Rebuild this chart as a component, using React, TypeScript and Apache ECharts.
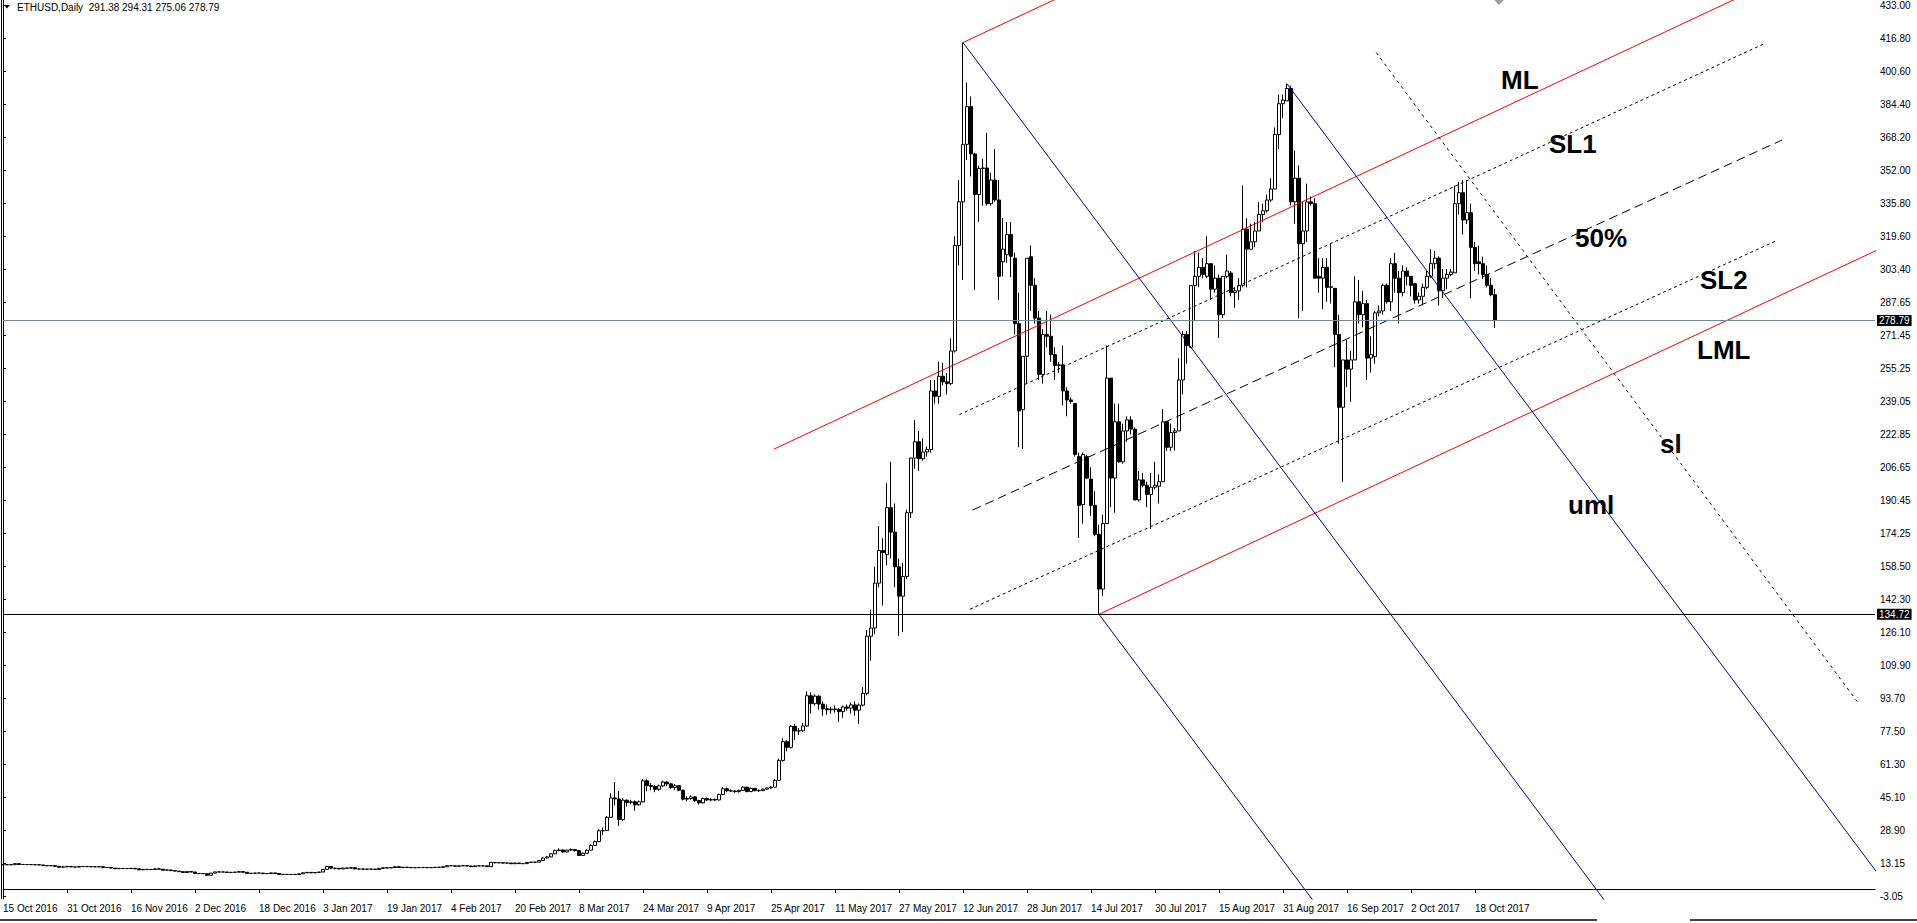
import React, { useEffect, useRef } from "react";
import * as echarts from "echarts";

// ---- candles: [open, close, low, high], one array per month ----
const oct2016 = [
  [11.98,11.96,11.85,12.05],[11.96,11.95,11.88,12.02],[11.95,11.99,11.85,12.04],[11.99,12.49,11.95,12.55],
  [12.49,12.07,11.98,12.52],[12.07,12.08,11.96,12.15],[12.08,12.04,11.98,12.12],[12.04,12.01,11.94,12.10],
  [12.01,11.94,11.88,12.06],[11.94,11.88,11.80,11.99],[11.88,11.55,11.45,11.92],[11.55,11.47,11.30,11.60],
  [11.47,11.52,11.40,11.62],[11.52,11.17,11.05,11.56],[11.17,10.74,10.50,11.20],[10.74,10.91,10.65,11.30],
  [10.91,11.14,10.85,11.25],
];
const nov2016 = [
  [11.14,10.90,10.80,11.20],[10.90,10.80,10.70,11.00],[10.80,11.10,10.75,11.20],[11.10,11.05,10.95,11.20],
  [11.05,11.05,10.95,11.15],[11.05,10.97,10.90,11.10],[10.97,10.93,10.85,11.05],[10.93,11.00,10.88,11.15],
  [11.00,10.60,10.40,11.05],[10.60,10.62,10.50,10.75],[10.62,10.30,10.20,10.70],[10.30,10.00,9.95,10.35],
  [10.00,10.15,9.90,10.20],[10.15,10.10,10.00,10.25],[10.10,10.07,9.95,10.20],[10.07,10.20,10.00,10.30],
  [10.20,9.94,9.85,10.25],[9.94,9.46,9.35,10.00],[9.46,9.70,9.40,9.80],[9.70,9.60,9.50,9.75],
  [9.60,9.65,9.55,9.75],[9.65,9.93,9.60,10.00],[9.93,9.77,9.70,9.98],[9.77,9.28,9.20,9.80],
  [9.28,9.38,9.20,9.45],[9.38,9.05,8.95,9.40],[9.05,8.84,8.75,9.10],[8.84,8.55,8.45,8.90],
  [8.55,8.14,7.95,8.60],[8.14,8.60,8.10,8.70],
];
const dec2016 = [
  [8.60,8.39,8.30,8.65],[8.39,7.68,7.55,8.45],[7.68,7.66,7.50,7.80],[7.66,7.57,7.45,7.75],
  [7.57,6.80,6.40,7.60],[6.80,7.85,6.75,7.95],[7.85,8.43,7.80,8.55],[8.43,8.40,8.30,8.55],
  [8.40,8.40,8.30,8.50],[8.40,8.14,8.05,8.45],[8.14,8.26,8.10,8.35],[8.26,8.30,8.20,8.40],
  [8.30,8.57,8.25,8.70],[8.57,8.28,8.20,8.60],[8.28,7.72,7.65,8.30],[7.72,7.76,7.65,7.85],
  [7.76,7.88,7.70,7.95],[7.88,7.88,7.80,7.95],[7.88,7.62,7.55,7.90],[7.62,7.61,7.50,7.70],
  [7.61,7.95,7.58,8.05],[7.95,7.66,7.60,7.98],[7.66,7.20,7.10,7.70],[7.20,7.26,7.15,7.35],
  [7.26,7.15,7.05,7.30],[7.15,7.22,7.10,7.30],[7.22,7.20,7.10,7.30],[7.20,7.48,7.15,7.55],
  [7.48,8.00,7.45,8.10],[8.00,8.20,7.95,8.35],[8.20,7.97,7.90,8.25],
];
const jan2017 = [
  [7.97,8.17,7.95,8.25],[8.17,8.38,8.10,8.45],[8.38,9.71,8.35,9.80],[9.71,11.13,9.65,11.30],
  [11.13,10.27,9.80,11.25],[10.27,10.21,9.70,10.40],[10.21,9.89,9.80,10.30],[9.89,10.33,9.85,10.45],
  [10.33,10.26,10.15,10.40],[10.26,10.49,10.20,10.60],[10.49,9.90,9.80,10.55],[9.90,9.88,9.75,10.00],
  [9.88,9.78,9.70,9.95],[9.78,9.81,9.70,9.90],[9.81,9.83,9.72,9.90],[9.83,9.64,9.55,9.88],
  [9.64,10.17,9.60,10.25],[10.17,10.47,10.10,10.55],[10.47,10.36,10.25,10.55],[10.36,10.59,10.30,10.65],
  [10.59,10.99,10.55,11.10],[10.99,10.61,10.55,11.05],[10.61,10.75,10.55,10.85],[10.75,10.63,10.55,10.80],
  [10.63,10.49,10.40,10.70],[10.49,10.55,10.45,10.65],[10.55,10.56,10.48,10.62],[10.56,10.61,10.50,10.68],
  [10.61,10.50,10.45,10.65],[10.50,10.58,10.45,10.65],[10.58,10.70,10.55,10.78],
];
const feb2017 = [
  [10.70,10.73,10.65,10.80],[10.73,10.95,10.70,11.05],[10.95,11.50,10.90,11.60],[11.50,11.43,11.35,11.60],
  [11.43,11.20,11.10,11.45],[11.20,11.40,11.15,11.50],[11.40,11.50,11.35,11.60],[11.50,11.35,11.25,11.55],
  [11.35,11.00,10.90,11.40],[11.00,11.40,10.95,11.50],[11.40,11.40,11.30,11.50],[11.40,11.40,11.30,11.50],
  [11.40,11.00,10.90,11.45],[11.00,13.10,10.95,13.30],[13.10,12.90,12.70,13.20],[12.90,12.95,12.80,13.05],
  [12.95,12.75,12.65,13.00],[12.75,12.80,12.65,12.90],[12.80,12.45,12.35,12.85],[12.45,12.80,12.40,12.90],
  [12.80,12.50,12.40,12.85],[12.50,12.50,12.40,12.60],[12.50,13.10,12.45,13.20],[13.10,13.20,13.00,13.40],
  [13.20,13.20,13.05,13.40],[13.20,14.00,13.15,14.20],[14.00,15.25,13.95,15.50],[15.25,15.80,15.00,16.20],
];
const mar2017 = [
  [15.80,17.30,15.60,17.60],[17.30,18.90,17.20,19.40],[18.90,19.20,18.60,20.00],[19.20,18.20,17.90,19.40],
  [18.20,19.10,18.00,19.30],[19.10,19.40,18.90,19.90],[19.40,18.90,18.40,19.70],[18.90,16.50,16.20,19.00],
  [16.50,17.60,16.30,18.00],[17.60,19.10,17.40,19.50],[19.10,21.40,19.00,22.00],[21.40,23.30,21.20,23.80],
  [23.30,28.60,23.00,29.50],[28.60,28.70,26.50,30.20],[28.70,35.20,28.50,35.80],[35.20,44.70,35.00,47.00],
  [44.70,44.20,41.00,52.50],[44.20,34.10,31.00,48.00],[34.10,43.60,33.50,44.50],[43.60,42.50,40.50,44.00],
  [42.50,42.80,41.50,43.80],[42.80,41.30,38.50,43.50],[41.30,42.80,41.00,43.50],[42.80,53.10,42.50,54.00],
  [53.10,50.80,48.00,53.80],[50.80,50.30,48.50,52.00],[50.30,48.90,47.50,51.00],[48.90,50.60,48.20,51.30],
  [50.60,52.50,50.20,53.20],[52.50,51.60,50.50,53.00],[51.60,49.80,49.00,52.00],
];
const apr2017 = [
  [49.80,50.70,48.50,51.50],[50.70,48.50,48.00,51.00],[48.50,44.10,43.50,48.80],[44.10,44.40,43.00,45.50],
  [44.40,45.20,43.80,46.00],[45.20,43.40,42.80,45.60],[43.40,42.30,41.50,43.80],[42.30,44.40,42.00,44.80],
  [44.40,43.70,43.20,44.90],[43.70,43.90,43.00,44.50],[43.90,43.70,43.20,44.40],[43.70,46.40,43.50,46.80],
  [46.40,49.20,46.00,50.00],[49.20,48.20,47.50,49.80],[48.20,48.10,47.60,48.80],[48.10,47.80,47.20,48.50],
  [47.80,48.40,47.30,48.80],[48.40,50.00,48.10,50.40],[50.00,47.80,47.50,50.20],[47.80,49.40,47.60,49.80],
  [49.40,48.30,47.90,49.60],[48.30,48.30,47.60,48.90],[48.30,49.00,48.00,49.30],[49.00,49.60,48.70,50.00],
  [49.60,50.00,49.20,50.60],[50.00,53.30,49.80,54.00],[53.30,63.10,53.00,64.00],[63.10,72.30,62.50,74.00],
  [72.30,69.50,67.50,73.00],[69.50,79.80,69.00,80.50],
];
const may2017 = [
  [79.80,77.50,73.00,81.00],[77.50,77.60,75.50,79.00],[77.60,80.00,77.00,81.50],[80.00,94.80,79.50,97.00],
  [94.80,90.90,86.00,96.50],[90.90,94.60,90.00,95.50],[94.60,90.70,88.00,95.00],[90.70,88.40,85.00,92.00],
  [88.40,87.90,85.50,90.50],[87.90,88.30,86.00,89.50],[88.30,88.10,86.50,90.00],[88.10,87.00,82.00,88.80],
  [87.00,89.30,84.00,90.00],[89.30,88.70,87.50,90.50],[88.70,90.30,86.00,91.50],[90.30,87.70,85.00,92.00],
  [87.70,90.20,81.00,91.00],[90.20,96.00,89.50,99.00],[96.00,124.00,95.00,127.00],[124.00,128.00,112.00,137.00],
  [128.00,150.00,125.00,158.00],[150.00,166.00,148.00,178.00],[166.00,165.00,139.00,172.00],[164.00,187.00,158.70,199.00],
  [187.00,175.00,162.00,209.50],[175.00,158.00,148.00,189.00],[158.00,143.60,124.00,162.00],[143.60,153.30,126.00,160.00],
  [153.30,184.50,152.00,186.00],[184.50,211.30,182.00,211.50],[211.30,219.30,206.00,230.00],
];
const jun2017 = [
  [219.30,211.00,205.00,224.60],[211.00,214.30,210.00,221.00],[214.30,215.50,212.00,217.00],[215.50,244.20,214.00,249.60],
  [244.20,241.60,238.00,249.60],[241.60,251.40,238.00,258.50],[251.40,248.70,247.00,258.00],[248.70,247.80,242.50,253.00],
  [247.80,263.80,247.00,270.00],[263.80,315.50,263.00,320.00],[315.50,336.90,305.70,347.60],[336.90,365.10,298.60,415.00],
  [365.10,383.60,357.40,395.40],[383.60,360.40,349.40,388.60],[360.40,340.50,293.80,361.00],[340.50,353.30,327.10,354.70],
  [353.30,353.50,335.00,358.00],[353.50,336.00,335.00,370.80],[336.00,347.60,335.00,351.20],[347.60,337.80,336.90,362.80],
  [337.80,300.40,288.80,347.60],[307.50,313.70,300.40,328.90],[311.00,320.90,307.00,327.00],[320.90,310.20,300.00,327.00],
  [309.30,277.20,271.90,312.00],[277.20,234.40,216.60,292.40],[235.00,261.20,215.70,261.20],[261.20,309.30,247.80,309.30],
  [310.00,296.00,283.40,315.50],[296.00,279.90,277.20,299.50],
];
const jul2017 = [
  [279.90,252.30,249.60,283.40],[252.30,271.90,247.80,274.50],[271.90,271.00,265.60,283.40],[271.00,262.00,258.50,281.60],
  [262.00,256.70,249.60,265.60],[256.70,257.00,253.00,258.50],[257.00,244.20,237.10,266.50],[244.20,239.80,231.80,246.00],
  [239.80,239.00,238.00,241.00],[238.00,213.10,212.00,238.00],[212.00,188.10,172.10,214.00],[188.50,213.00,179.20,214.00],
  [212.00,201.50,201.00,213.00],[201.00,188.10,182.80,206.80],[188.10,173.90,173.00,195.00],[173.90,147.10,134.72,178.60],
  [147.10,179.20,143.60,183.60],[179.20,250.50,179.00,266.50],[250.50,201.50,187.20,250.50],[201.50,229.10,184.50,238.00],
  [229.10,209.50,209.00,238.00],[209.50,224.60,208.60,228.20],[224.60,230.00,219.30,231.80],[230.00,225.50,222.90,231.80],
  [225.50,190.80,190.80,226.40],[190.80,200.60,190.00,205.00],[200.60,198.00,197.00,204.00],[198.00,193.50,187.20,199.70],
  [193.50,197.00,176.50,204.00],[197.00,198.00,196.00,209.50],[197.50,199.70,189.00,203.30],
];
const aug2017 = [
  [199.70,229.10,199.70,235.30],[229.10,216.60,214.80,229.10],[216.60,223.80,214.80,228.20],[223.80,224.60,215.00,226.00],
  [224.60,249.60,224.60,260.30],[249.60,271.90,242.50,273.60],[271.90,266.50,257.60,273.60],[265.60,295.90,265.60,296.00],
  [295.90,300.40,279.00,312.80],[300.40,304.80,295.00,312.00],[304.80,301.30,299.50,309.30],[300.40,306.60,299.50,320.00],
  [306.60,294.10,288.80,306.60],[294.10,299.50,292.40,305.70],[299.50,281.60,270.10,301.30],[281.60,300.40,279.90,300.40],
  [300.40,303.00,299.50,311.00],[302.00,292.40,290.60,303.00],[292.40,293.30,285.00,295.00],[293.30,296.00,288.80,299.50],
  [296.00,323.50,295.00,344.90],[323.50,313.70,295.00,328.90],[313.70,317.30,313.70,326.20],[317.30,322.60,314.60,327.00],
  [322.60,330.70,322.60,336.90],[330.70,332.50,327.10,336.00],[332.50,337.80,331.60,340.50],[337.80,343.20,336.90,348.50],
  [343.20,369.90,343.20,373.40],[369.90,385.00,362.80,389.50],[385.00,386.80,377.90,389.50],
];
const sep2017 = [
  [386.40,392.50,386.40,394.80],[392.50,336.90,335.10,393.90],[336.90,348.50,326.20,361.90],[348.50,316.40,279.90,354.70],
  [316.40,322.60,283.40,336.90],[322.60,336.90,317.30,345.80],[336.90,336.00,335.00,339.60],[336.00,299.50,299.50,338.70],
  [300.40,299.50,292.40,309.30],[299.50,304.80,284.30,309.30],[304.80,295.00,287.90,309.30],[295.00,295.30,287.00,316.40],
  [294.50,271.90,255.80,294.50],[271.90,236.20,218.40,281.60],[236.20,259.40,199.70,259.40],[259.40,254.90,246.00,269.20],
  [254.90,259.40,238.90,263.80],[259.40,287.90,259.40,300.40],[287.90,281.60,277.20,298.60],[281.60,287.00,275.40,293.30],
  [287.00,260.30,249.60,288.80],[260.30,262.00,253.20,271.00],[261.00,282.50,257.60,283.40],[282.50,283.40,280.80,286.10],
  [283.40,296.00,281.60,296.80],[296.00,287.90,287.00,296.80],[287.90,306.60,283.40,309.30],[306.60,299.50,292.40,311.90],
  [299.50,292.40,277.20,303.00],[292.40,303.00,290.60,305.70],
];
const oct2017 = [
  [303.00,300.40,295.90,304.80],[300.40,296.00,290.60,300.40],[296.80,288.80,287.00,296.80],[288.80,290.60,287.00,292.40],
  [290.60,295.00,286.10,296.80],[295.00,300.40,294.10,303.00],[300.40,306.60,299.50,313.70],[306.60,309.30,304.00,312.80],
  [309.30,293.30,286.10,310.20],[293.30,299.50,289.70,304.00],[299.50,301.30,294.10,304.00],[301.30,302.50,300.40,304.00],
  [302.10,336.00,302.10,344.90],[336.00,341.40,330.70,346.70],[341.40,328.00,320.90,347.60],[328.00,331.60,326.00,347.60],
  [331.60,314.60,289.70,336.00],[314.60,306.60,303.00,317.30],[307.50,306.60,301.30,315.50],[306.60,301.30,299.00,310.00],
  [301.30,296.00,295.00,305.70],[296.00,291.40,290.60,299.50],[291.38,278.79,275.06,294.31],
];

// ---- price scale labels (right axis, bottom to top) ----
const priceTicks = [
  "-3.05","13.15","28.90","45.10","61.30","77.50","93.70","109.90","126.10","142.30",
  "158.50","174.25","190.45","206.65","222.85","239.05","255.25","271.45","287.65","303.40",
  "319.60","335.80","352.00","368.20","384.40","400.60","416.80","433.00",
];
const MONTHS = ["Jan","Feb","Mar","Apr","May","Jun","Jul","Aug","Sep","Oct","Nov","Dec"];
const FIRST_DAY = [2016, 9, 15];
const TOTAL_SLOTS = 469; // bars + empty shift on the right
const LABEL_EVERY = 16;

// ---- drawn objects: [barIndex, price] anchor points ----
const redUpper = [[240, 415.0], [440, 598.6]];
const redMedian = [[192.75, 215.7], [470, 470.2]];
const redLower = [[274, 134.72], [470, 314.6]];
const blue1 = [[240, 415.0], [410, -30.7]];
const blue2 = [[321, 394.8], [470, 4.2]];
const blue3 = [[274, 134.72], [335, -25.2]];
const sl1Line = [[239.1, 232.6], [440.5, 414.6]];
const halfLine = [[242.4, 185.8], [444.75, 367.2]];
const sl2Line = [[241.75, 137.2], [443.4, 317.9]];
const slLine = [[343.3, 410.1], [463.7, 91.6]];
const levelCurrent = 278.79;
const levelLow = 134.72;

const FONT = "Liberation Sans, Arial, sans-serif";

export default function App() {
  const ref = useRef<HTMLDivElement>(null);

  useEffect(() => {
    if (!ref.current) return;
    const chart = echarts.init(ref.current, undefined, { renderer: "svg" });

    const candles = [
      ...oct2016, ...nov2016, ...dec2016, ...jan2017, ...feb2017, ...mar2017,
      ...apr2017, ...may2017, ...jun2017, ...jul2017, ...aug2017, ...sep2017, ...oct2017,
    ];
    const dates: string[] = [];
    for (let k = 0; k < TOTAL_SLOTS; k++) {
      if (k < candles.length) {
        const d = new Date(Date.UTC(FIRST_DAY[0], FIRST_DAY[1], FIRST_DAY[2] + k));
        dates.push(`${d.getUTCDate()} ${MONTHS[d.getUTCMonth()]} ${d.getUTCFullYear()}`);
      } else dates.push("");
    }
    const last = candles[candles.length - 1];
    const titleText = `ETHUSD,Daily  ${last[0].toFixed(2)} ${last[3].toFixed(2)} ${last[2].toFixed(2)} ${last[1].toFixed(2)}`;
    const showIdx = (i: number, v: string) => v !== "" && i % LABEL_EVERY === 0;

    const mkLine = (data: number[][], color: string, type: any) => ({
      type: "line",
      xAxisIndex: 1,
      yAxisIndex: 0,
      data,
      showSymbol: false,
      symbol: "none",
      silent: true,
      animation: false,
      lineStyle: { color, width: 1, type },
      z: 3,
    });

    const txt = (id: string, text: string, x: number, y: number) => ({
      type: "text",
      id,
      x,
      y,
      silent: true,
      style: {
        text,
        fill: "#000",
        fontSize: 26,
        fontWeight: "bold",
        fontFamily: FONT,
        align: "left",
        verticalAlign: "middle",
        textAlign: "left",
        textVerticalAlign: "middle",
      },
    });

    chart.setOption({
      animation: false,
      backgroundColor: "#fff",
      textStyle: { fontFamily: FONT },
      grid: [
        { left: 3, right: 42, top: 0, bottom: 24 },
        { left: 3, right: 42, top: 5.5, bottom: 27 },
      ],
      xAxis: [
        {
          type: "category",
          gridIndex: 0,
          data: dates,
          boundaryGap: false,
          axisLine: { show: true, lineStyle: { color: "#000", width: 1 } },
          axisTick: { show: true, interval: showIdx, length: 4, lineStyle: { color: "#000" } },
          axisLabel: {
            interval: showIdx,
            align: "left",
            margin: 4,
            fontSize: 10,
            color: "#000",
            fontFamily: FONT,
          },
          splitLine: { show: false },
        },
        { type: "value", gridIndex: 0, min: 0, max: TOTAL_SLOTS - 1, show: false },
        { type: "value", gridIndex: 1, min: 0, max: 1, show: false },
      ],
      yAxis: [
        {
          type: "value",
          gridIndex: 0,
          position: "right",
          min: -4.84,
          max: 435.85,
          axisLine: { show: true, lineStyle: { color: "#000", width: 1 } },
          axisTick: { show: false },
          axisLabel: { show: false },
          splitLine: { show: false },
        },
        {
          type: "category",
          gridIndex: 1,
          position: "right",
          data: priceTicks,
          boundaryGap: false,
          axisLine: { show: false },
          axisTick: { show: true, interval: 0, length: 3, lineStyle: { color: "#000" } },
          axisLabel: { interval: 0, margin: 5, fontSize: 10, color: "#000", fontFamily: FONT },
          splitLine: { show: false },
        },
      ],
      series: [
        {
          type: "candlestick",
          xAxisIndex: 0,
          yAxisIndex: 0,
          data: candles,
          barWidth: 3,
          clip: false,
          silent: true,
          itemStyle: {
            color: "#ffffff",
            color0: "#000000",
            borderColor: "#000000",
            borderColor0: "#000000",
            borderWidth: 1,
          },
          markLine: {
            silent: true,
            symbol: ["none", "none"],
            animation: false,
            data: [
              { yAxis: levelCurrent, lineStyle: { color: "#778899", width: 1, type: "solid" } },
              { yAxis: levelLow, lineStyle: { color: "#000000", width: 1, type: "solid" } },
            ],
            label: {
              show: true,
              position: "end",
              distance: 2,
              formatter: (p: any) => Number(p.value).toFixed(2),
              color: "#fff",
              backgroundColor: "#000",
              padding: [1, 2, 0, 2],
              fontSize: 10,
              lineHeight: 10,
              fontFamily: FONT,
            },
          },
        },
        mkLine(redUpper, "#ff0000", "solid"),
        mkLine(redMedian, "#ff0000", "solid"),
        mkLine(redLower, "#ff0000", "solid"),
        mkLine(blue1, "#00008b", "solid"),
        mkLine(blue2, "#00008b", "solid"),
        mkLine(blue3, "#00008b", "solid"),
        mkLine(sl1Line, "#000000", [3, 3]),
        mkLine(halfLine, "#000000", [9, 5]),
        mkLine(sl2Line, "#000000", [3, 3]),
        mkLine(slLine, "#000000", [3, 4]),
      ],
      graphic: [
        { type: "rect", id: "leftBorder", silent: true, shape: { x: 1, y: 0, width: 1, height: 899 }, style: { fill: "#000" } },
        { type: "rect", id: "bottomA", silent: true, shape: { x: 0, y: 919, width: 1597, height: 2 }, style: { fill: "#444" } },
        { type: "rect", id: "bottomB", silent: true, shape: { x: 1690, y: 919, width: 227, height: 2 }, style: { fill: "#444" } },
        { type: "polygon", id: "menuMark", silent: true, shape: { points: [[4, 5], [10, 5], [7, 8.5]] }, style: { fill: "#000" } },
        { type: "polygon", id: "shiftMark", silent: true, shape: { points: [[1494, 0], [1504, 0], [1499, 5]] }, style: { fill: "#a0a0a0" } },
        {
          type: "text",
          id: "title",
          x: 17,
          y: 7.5,
          silent: true,
          style: {
            text: titleText,
            fill: "#000",
            fontSize: 10,
            fontFamily: FONT,
            align: "left",
            verticalAlign: "middle",
            textAlign: "left",
            textVerticalAlign: "middle",
          },
        },
        txt("tML", "ML", 1501, 80),
        txt("tSL1", "SL1", 1549, 144),
        txt("t50", "50%", 1575, 238),
        txt("tSL2", "SL2", 1700, 280),
        txt("tLML", "LML", 1697, 350),
        txt("tsl", "sl", 1660, 444),
        txt("tuml", "uml", 1568, 505),
      ],
    });

    return () => chart.dispose();
  }, []);

  return (
    <div
      ref={ref}
      style={{ position: "fixed", left: 0, top: 0, width: "1917px", height: "923px", background: "#fff" }}
    />
  );
}
